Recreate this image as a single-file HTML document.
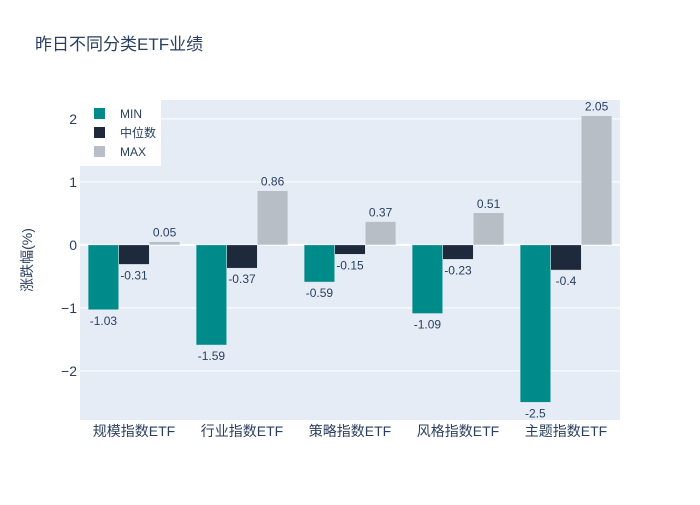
<!DOCTYPE html>
<html><head><meta charset="utf-8"><style>
body{margin:0;background:#fff;}
svg{font-family:"Liberation Sans","Noto Sans CJK SC",sans-serif;}
</style></head><body>
<svg id="chart" width="700" height="500">
<rect x="0" y="0" width="700" height="500" fill="#fff"/>
<text x="35" y="50" font-size="17" fill="#2a3f5f">昨日不同分类ETF业绩</text>
<rect x="80" y="100" width="540" height="320" fill="#e5ecf6"/>
<g id="grid"></g>
<g id="bars"></g>
<g id="labels"></g>
<text transform="translate(32,260) rotate(-90)" text-anchor="middle" font-size="14" fill="#2a3f5f">涨跌幅(%)</text>
<g>
<rect x="80" y="100" width="81" height="66" fill="#fff"/>
<rect x="94" y="108" width="11" height="11" fill="#008b8b"/>
<text x="120" y="118" font-size="12" fill="#2a3f5f">MIN</text>
<rect x="94" y="127" width="11" height="11" fill="#1f293c"/>
<text x="120" y="137" font-size="12" fill="#2a3f5f">中位数</text>
<rect x="94" y="146" width="11" height="11" fill="#b8bec6"/>
<text x="120" y="156" font-size="12" fill="#2a3f5f">MAX</text>
</g>
</svg>
<script>
const categories=["规模指数ETF","行业指数ETF","策略指数ETF","风格指数ETF","主题指数ETF"];
const minValues=[-1.03,-1.59,-0.59,-1.09,-2.5];
const medianValues=[-0.31,-0.37,-0.15,-0.23,-0.4];
const maxValues=[0.05,0.86,0.37,0.51,2.05];
const yTicks=[-2,-1,0,1,2];
const yTickLabels=["−2","−1","0","1","2"];
const seriesNames=["min","median","max"];
const seriesColors=["#008b8b","#1f293c","#b8bec6"];

const NS="http://www.w3.org/2000/svg";
const x0=80,x1=620,yTop=100,yBot=420,yMin=-2.78,yMax=2.3;
function y(v){return yBot-(v-yMin)/(yMax-yMin)*(yBot-yTop);}
const band=(x1-x0)/categories.length, gap=0.15, bw=band*(1-gap)/3;
function bx(i,s){return x0+i*band+band*gap/2+s*bw;}
function mk(tag,attrs,parent){const e=document.createElementNS(NS,tag);for(const k in attrs)e.setAttribute(k,attrs[k]);parent.appendChild(e);return e;}
const grid=document.getElementById('grid'),bars=document.getElementById('bars'),labels=document.getElementById('labels'),svg=document.getElementById('chart');
yTicks.forEach((t,i)=>{
 const l=mk('line',{x1:x0,x2:x1,y1:y(t),y2:y(t),stroke:'#fff','stroke-width':t===0?2:1},grid);
 
 
 const tx=mk('text',{x:x0-3,y:y(t)+5,'text-anchor':'end','font-size':14,fill:'#2a3f5f'},svg);
 tx.textContent=yTickLabels[i];
 
 
});
categories.forEach((c,i)=>{
 const tx=mk('text',{x:x0+(i+0.5)*band,y:436,'text-anchor':'middle','font-size':14,fill:'#2a3f5f'},svg);
 tx.textContent=c;
 
 
});
[minValues,medianValues,maxValues].forEach((vals,s)=>{
 vals.forEach((v,i)=>{
  const yy=Math.min(y(v),y(0)),h=Math.abs(y(v)-y(0));
  const r=mk('rect',{x:bx(i,s),y:yy,width:bw,height:h,fill:seriesColors[s],stroke:'#e5ecf6','stroke-width':0.5},bars);
  
  
  const ly=v>=0?y(v)-5:y(v)+15;
  const t=mk('text',{x:bx(i,s)+bw/2,y:ly,'text-anchor':'middle','font-size':12,fill:'#2a3f5f'},labels);
  t.textContent=String(v);
  
  
 });
});
</script>
</body></html>
